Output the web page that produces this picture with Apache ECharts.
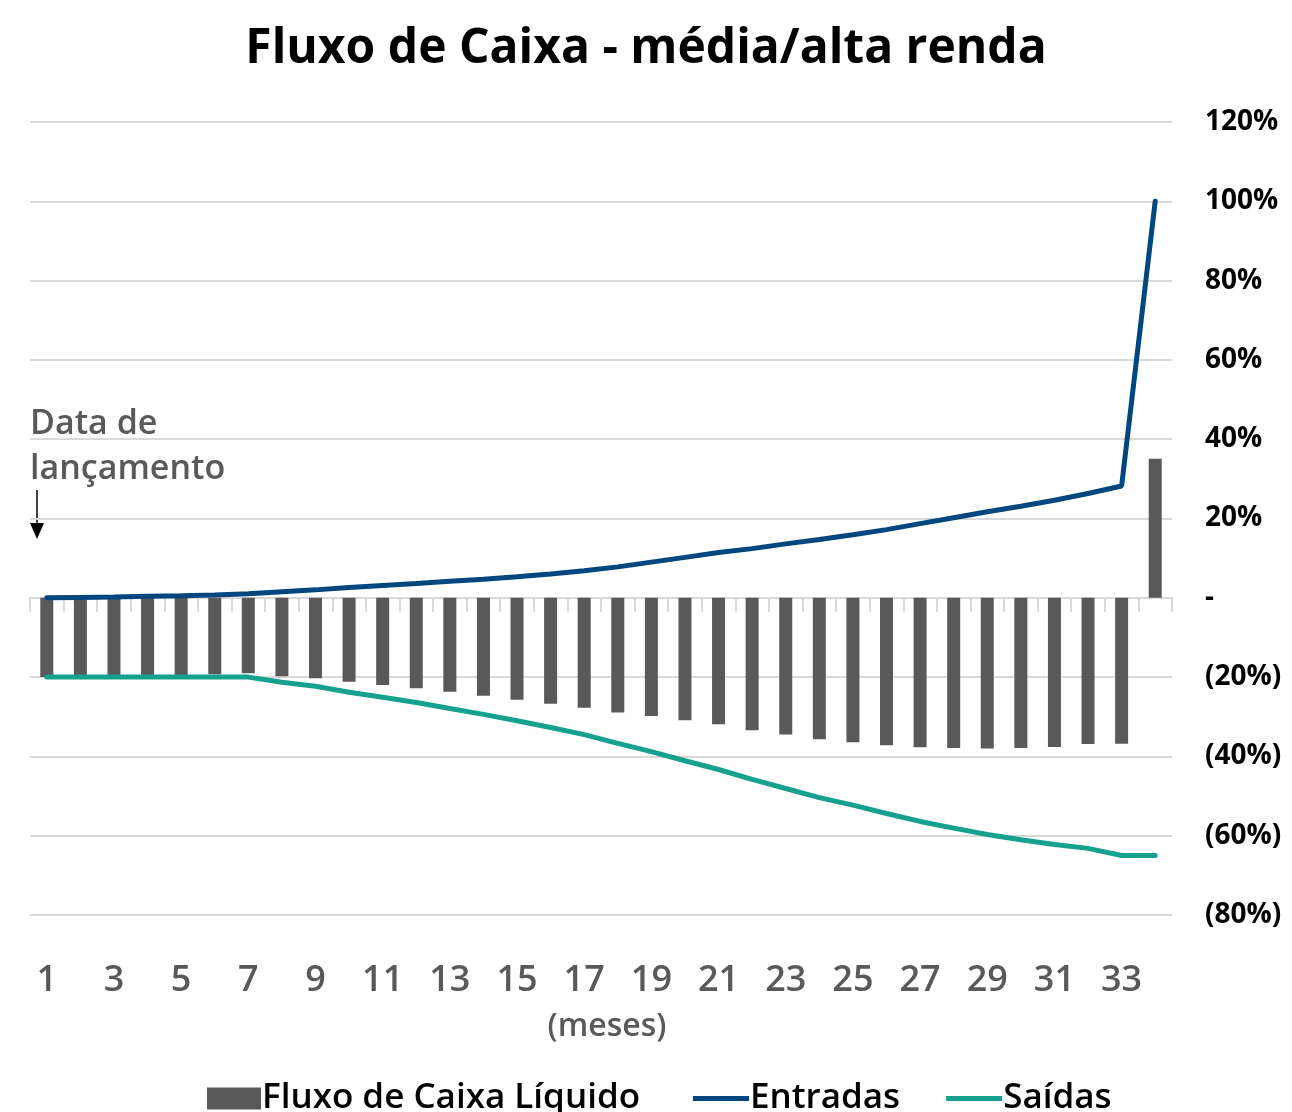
<!DOCTYPE html>
<html>
<head>
<meta charset="utf-8">
<script src="https://cdn.jsdelivr.net/npm/echarts@6/dist/echarts.min.js"></script>
<style>
  html, body { margin: 0; padding: 0; background: #fff; }
  #chart { width: 1292px; height: 1112px; }
</style>
</head>
<body>
<div id="chart"></div>
<script>
// meses 1..34
var meses = []
for (var m = 1; m <= 34; m++) meses.push(String(m))

// valores em %
var fluxoLiquido = [-20, -19.9, -19.8, -19.7, -19.5, -19.3, -19.0, -19.8, -20.3, -21.2,
  -22.0, -22.8, -23.7, -24.7, -25.7, -26.7, -27.7, -28.9, -29.8, -30.9,
  -31.9, -33.4, -34.5, -35.7, -36.4, -37.2, -37.7, -37.9, -38.0, -37.9,
  -37.6, -36.9, -36.8, 35.1]
var entradas = [0, 0.1, 0.2, 0.4, 0.5, 0.7, 1.0, 1.5, 2.0, 2.6,
  3.1, 3.6, 4.2, 4.7, 5.3, 6.0, 6.8, 7.8, 9.0, 10.2,
  11.4, 12.4, 13.6, 14.7, 15.9, 17.2, 18.7, 20.2, 21.7, 23.1,
  24.6, 26.3, 28.2, 100]
var saidas = [-20, -20, -20, -20, -20, -20, -20, -21.3, -22.3, -23.8,
  -25.1, -26.4, -27.9, -29.4, -31.0, -32.7, -34.5, -36.7, -38.8, -41.1,
  -43.3, -45.8, -48.1, -50.4, -52.3, -54.4, -56.4, -58.1, -59.7, -61.0,
  -62.2, -63.2, -65.0, -65.0]

var fonte = '"Open Sans", "Noto Sans", sans-serif'
var cinza = '#595959'
var grade = '#d9d9d9'
var azul = '#00467f'
var verde = '#16a08e'

var legendaTexto = { fontSize: 35, fontWeight: 600, color: '#000', fontFamily: fonte, padding: [0, 0, 0, -4] }

var myChart = echarts.init(document.getElementById('chart'))
var option = {
  backgroundColor: '#fff',
  animation: false,
  textStyle: { fontFamily: fonte },
  title: {
    text: 'Fluxo de Caixa - média/alta renda',
    left: 'center',
    top: 20,
    textStyle: { fontSize: 48, fontWeight: 'bold', color: '#000', fontFamily: fonte }
  },
  legend: [
    {
      top: 1076,
      left: 202,
      itemWidth: 54,
      itemHeight: 22,
      textStyle: legendaTexto,
      data: [{ name: 'Fluxo de Caixa Líquido', icon: 'rect' }]
    },
    {
      top: 1076,
      left: 688,
      itemGap: 46,
      itemWidth: 56,
      itemHeight: 5,
      icon: 'rect',
      textStyle: legendaTexto,
      data: ['Entradas', 'Saídas']
    }
  ],
  grid: {
    left: 30,
    right: 120,
    top: 122,
    bottom: 197
  },
  xAxis: [
    {
      type: 'category',
      data: meses,
      position: 'bottom',
      axisLine: { show: false, onZero: false },
      axisTick: { show: false },
      axisLabel: {
        interval: 1,
        margin: 48,
        fontSize: 36,
        fontWeight: 600,
        color: cinza,
        fontFamily: fonte
      },
      name: '(meses)',
      nameLocation: 'middle',
      nameGap: 96,
      nameTextStyle: { fontSize: 32, fontWeight: 600, color: cinza, fontFamily: fonte, padding: [0, 0, 0, 12] }
    },
    {
      type: 'category',
      data: meses,
      position: 'bottom',
      axisLine: { show: true, onZero: true, onZeroAxisIndex: 0, lineStyle: { color: grade, width: 2 } },
      axisTick: { show: true, length: 14, lineStyle: { color: grade, width: 2 } },
      axisLabel: { show: false }
    }
  ],
  yAxis: {
    type: 'value',
    position: 'right',
    min: -80,
    max: 120,
    interval: 20,
    axisLine: { show: false },
    axisTick: { show: false },
    splitLine: { lineStyle: { color: grade, width: 2 } },
    axisLabel: {
      margin: 33,
      fontSize: 28,
      fontWeight: 'bold',
      color: '#000',
      fontFamily: fonte,
      formatter: function (v) {
        if (v === 0) return '-'
        if (v < 0) return '(' + (-v) + '%)'
        return v + '%'
      }
    }
  },
  series: [
    {
      name: 'Fluxo de Caixa Líquido',
      type: 'bar',
      xAxisIndex: 0,
      data: fluxoLiquido,
      barWidth: 13,
      itemStyle: { color: cinza },
      z: 2
    },
    {
      name: 'Entradas',
      type: 'line',
      xAxisIndex: 0,
      data: entradas,
      symbol: 'none',
      lineStyle: { color: azul, width: 5, cap: 'round' },
      itemStyle: { color: azul },
      z: 3
    },
    {
      name: 'Saídas',
      type: 'line',
      xAxisIndex: 0,
      data: saidas,
      symbol: 'none',
      lineStyle: { color: verde, width: 5, cap: 'round' },
      itemStyle: { color: verde },
      z: 3
    }
  ],
  graphic: [
    {
      type: 'text',
      left: 30,
      top: 402,
      style: {
        text: 'Data de\nlançamento',
        fontSize: 34,
        fontWeight: 600,
        lineHeight: 45,
        fill: cinza,
        fontFamily: fonte
      }
    },
    {
      type: 'line',
      shape: { x1: 37, y1: 490, x2: 37, y2: 526 },
      style: { stroke: '#000', lineWidth: 1.5 }
    },
    {
      type: 'polygon',
      shape: { points: [[30, 523], [44, 523], [37, 539]] },
      style: { fill: '#000' }
    }
  ]
}
myChart.setOption(option)
</script>
</body>
</html>
